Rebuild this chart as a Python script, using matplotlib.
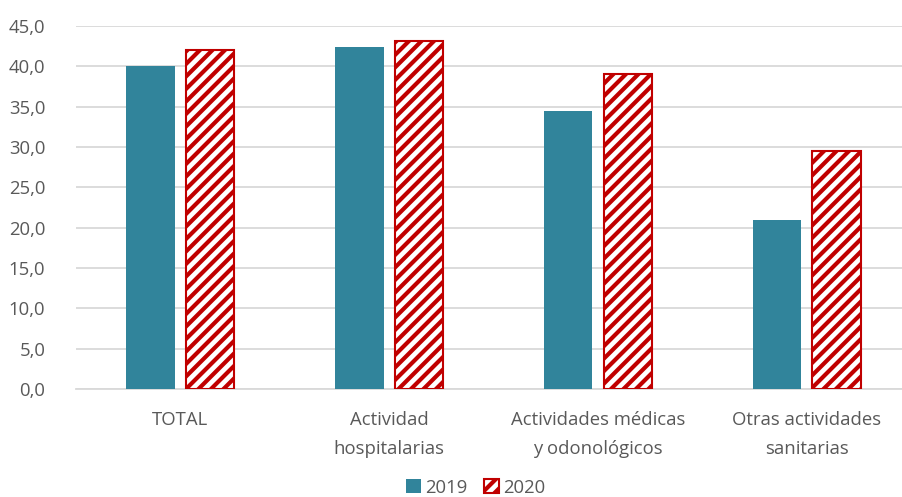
import matplotlib
matplotlib.use("Agg")
import matplotlib.pyplot as plt
import matplotlib.backend_bases as bb
import numpy as np
from matplotlib.patches import Patch

categories = ["TOTAL", "Actividad\nhospitalarias", "Actividades médicas\ny odonológicos", "Otras actividades\nsanitarias"]
series_names = ["2019", "2020"]
values_2019 = [40.1, 42.4, 34.5, 20.9]
values_2020 = [42.0, 43.2, 39.0, 29.5]
yticks = [0, 5, 10, 15, 20, 25, 30, 35, 40, 45]

# slightly sparser hatch stripes than the default '//' (16 lines per unit)
_orig_ghp = bb.GraphicsContextBase.get_hatch_path
def _ghp(self, density=6.0):
    return _orig_ghp(self, density=8.0)
bb.GraphicsContextBase.get_hatch_path = _ghp

plt.rcParams['font.family'] = ['Open Sans', 'DejaVu Sans']
plt.rcParams['hatch.linewidth'] = 3.0
plt.rcParams['hatch.color'] = '#C00000'

teal = '#31849B'
red = '#C00000'
grey = '#595959'
fs = 13.3

fig = plt.figure(figsize=(9.03, 4.97), dpi=100)
ax = fig.add_axes([76/903, 1-389/497, 827/903, (389-26)/497])

x = np.arange(len(categories))
w = 0.232
off = 0.143
ax.bar(x - off, values_2019, w, color=teal, edgecolor='none', zorder=3)
ax.bar(x + off, values_2020, w, facecolor='white', edgecolor=red, hatch='//', linewidth=1.5, zorder=3)

ax.set_ylim(0, 45)
ax.set_xlim(-0.5, -0.5 + 827/208.8)
ax.set_yticks(yticks)
ax.set_yticklabels([f"{v:.1f}".replace('.', ',') for v in yticks], fontsize=fs, color=grey)
ax.set_xticks(x)
ax.set_xticklabels(categories, fontsize=fs, color=grey, linespacing=1.8)
ax.tick_params(axis='both', length=0)
ax.tick_params(axis='y', pad=22)
ax.tick_params(axis='x', pad=16)
ax.grid(axis='y', color='#D9D9D9', linewidth=1.3, zorder=0)
for s in ['top', 'right', 'left']:
    ax.spines[s].set_visible(False)
ax.spines['bottom'].set_color('#D9D9D9')
ax.spines['bottom'].set_linewidth(1.3)

handles = [Patch(facecolor=teal, edgecolor='none', label=series_names[0]),
           Patch(facecolor='white', edgecolor=red, hatch='//', linewidth=1.5, label=series_names[1])]
leg = fig.legend(handles=handles, loc='lower center', bbox_to_anchor=(0.527, -0.033), ncol=2, frameon=False,
                 fontsize=fs, handlelength=0.8, handleheight=0.8, handletextpad=0.25, columnspacing=0.9)
for t in leg.get_texts():
    t.set_color(grey)

fig.savefig("out.png", dpi=100)
